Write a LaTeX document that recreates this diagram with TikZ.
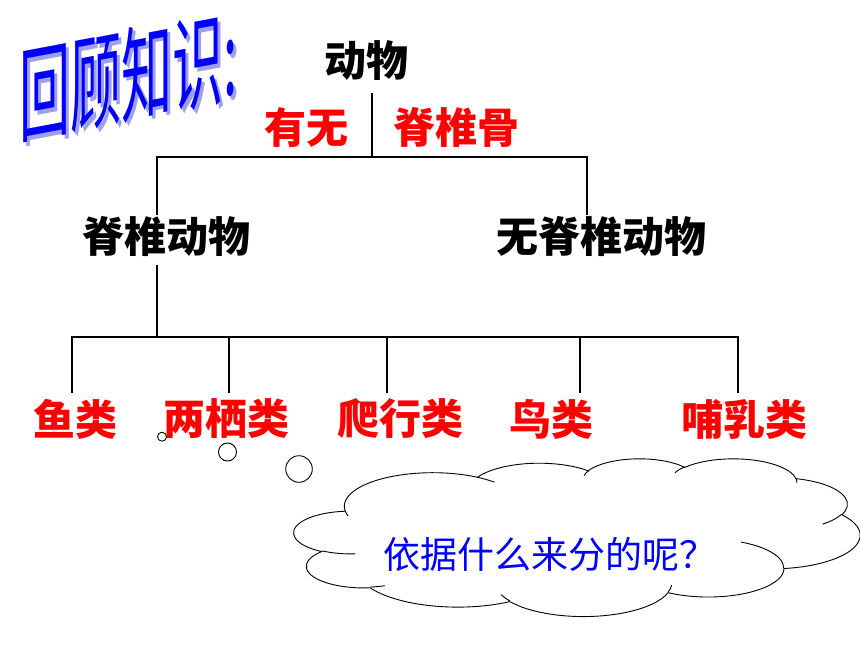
\documentclass[tikz,border=0pt]{standalone}
\usepackage{fontspec}
\newfontfamily\cjk{Noto Sans CJK SC}
\definecolor{titleblue}{rgb}{0,0,1}
\definecolor{titleshadow}{RGB}{160,160,232}
\definecolor{qblue}{rgb}{0,0,1}
\begin{document}
\begin{tikzpicture}[x=1pt,y=-1pt,
  conn/.style={line width=2.6pt, black},
  blk/.style={font=\cjk\bfseries\fontsize{42}{44}\selectfont, text=black, inner sep=0pt},
  redl/.style={blk, text=red},
  titletext/.style={font=\cjk\fontsize{104}{108}\selectfont, inner sep=0pt, transform shape},
  cloudline/.style={draw=black, line width=0.9pt},
  bubble/.style={draw=black, line width=0.9pt, fill=white},
  cloudarc/.style n args={4}{insert path={arc[x radius=#1, y radius=#2,
      start angle={atan2(#1*sin(#3),#2*cos(#3))},
      delta angle={mod(atan2(#1*sin(#3+#4),#2*cos(#3+#4))-atan2(#1*sin(#3),#2*cos(#3))+720,360)}]}}
]
\useasboundingbox (0,0) rectangle (860,645);
\fill[white] (0,0) rectangle (860,645);

% title (WordArt-like)
\begin{scope}[shift={(132,79)}, yslant=0.19, xscale=0.49]
  \node[titletext, text=titleshadow] (titleshadow) at (0,0) {回顾知识:};
\end{scope}
\begin{scope}[shift={(128.5,75.5)}, yslant=0.19, xscale=0.49]
  \node[titletext, text=titleblue] (title) at (0,0) {回顾知识:};
\end{scope}

% tree nodes
\node[blk] (dongwu) at (366,61) {动物};
\node[redl] (youwu) at (306,128) {有无};
\node[redl] (jizhuigu) at (456.5,128) {脊椎骨};
\node[blk] (jzdw) at (166.5,237) {脊椎动物};
\node[blk] (wjzdw) at (601.5,237) {无脊椎动物};
\node[redl] (yu) at (75,419) {鱼类};
\node[redl] (liangqi) at (226.5,419) {两栖类};
\node[redl] (paxing) at (400,419) {爬行类};
\node[redl] (niao) at (551,419) {鸟类};
\node[redl] (buru) at (744,419) {哺乳类};

% connector points
\coordinate (t0) at (372,93);
\coordinate (t1) at (372,157);
\coordinate (bl) at (157,157);
\coordinate (br) at (587,157);
\coordinate (bl1) at (157,215);
\coordinate (br1) at (587,215);
\coordinate (c0) at (157,265);
\coordinate (c1) at (157,337);
\coordinate (r0) at (72,337);
\coordinate (r1) at (229,337);
\coordinate (r2) at (387,337);
\coordinate (r3) at (580,337);
\coordinate (r4) at (738,337);
\coordinate (l0) at (72,393);
\coordinate (l1) at (229,393);
\coordinate (l2) at (387,393);
\coordinate (l3) at (580,393);
\coordinate (l4) at (738,393);

\draw[conn] (t0) -- (t1);
\draw[conn] (bl1) -- (bl) -- (br) -- (br1);
\draw[conn] (c0) -- (c1);
\draw[conn] (l0) -- (r0) -- (r4) -- (l4);
\draw[conn] (r1) -- (l1);
\draw[conn] (r2) -- (l2);
\draw[conn] (r3) -- (l3);

% thought bubbles
\node[bubble, circle, minimum size=9pt, inner sep=0pt] (b1) at (162,436.7) {};
\node[bubble, circle, minimum size=18pt, inner sep=0pt] (b2) at (227.5,452) {};
\node[bubble, circle, minimum size=26.6pt, inner sep=0pt] (b3) at (299,469) {};

% cloud (PowerPoint cloud callout geometry, 432 x 432 units)
\begin{scope}[shift={(294,458.3)}, x=1.31pt, y=-0.365pt]
  \draw[cloudline, fill=white] (39.00,143.70)
    [cloudarc={67.53}{91.90}{-190.4875}{123.7805}]
    [cloudarc={53.33}{72.67}{-144.1024}{89.9452}]
    [cloudarc={43.65}{59.45}{-145.8079}{99.7230}]
    [cloudarc={48.57}{65.95}{-130.9861}{117.2417}]
    [cloudarc={53.33}{72.73}{-78.7089}{109.0269}]
    [cloudarc={67.75}{92.20}{-46.2673}{130.2690}]
    [cloudarc={57.85}{78.67}{0.6250}{114.0333}]
    [cloudarc={67.52}{92.15}{22.4516}{115.1726}]
    [cloudarc={77.20}{105.43}{66.2426}{75.7110}]
    [cloudarc={43.60}{59.18}{-274.9421}{146.7356}]
    [cloudarc={43.45}{59.45}{-246.8285}{152.5189}]
    -- cycle;
  \draw[cloudline]
    (46.93,261.77) [cloudarc={43.45}{59.45}{86.7420}{26.4295}]
    (69.28,348.99) [cloudarc={43.60}{59.18}{73.6105}{11.4475}]
    (164.78,390.90) [cloudarc={67.52}{92.15}{137.6242}{14.0811}]
    (288.27,347.51) [cloudarc={67.52}{92.15}{6.4533}{15.9984}]
    (341.29,229.54) [cloudarc={57.85}{78.67}{-70.2924}{70.9174}]
    (417.98,153.54) [cloudarc={53.33}{72.73}{30.3180}{27.7515}]
    (383.24,54.26) [cloudarc={48.57}{65.95}{-13.7443}{14.8589}]
    (290.78,39.52) [cloudarc={48.57}{65.95}{-149.1815}{18.1954}]
    (221.41,47.20) [cloudarc={43.65}{59.45}{-163.4943}{17.6864}]
    (140.00,51.92) [cloudarc={67.53}{91.90}{-66.7070}{12.3194}]
    (41.27,157.89) [cloudarc={67.53}{91.90}{157.6544}{11.8582}];
\end{scope}

\node[font=\cjk\fontsize{37}{40}\selectfont, text=qblue, inner sep=0pt] (question) at (550,554) {依据什么来分的呢？};
\end{tikzpicture}
\end{document}
